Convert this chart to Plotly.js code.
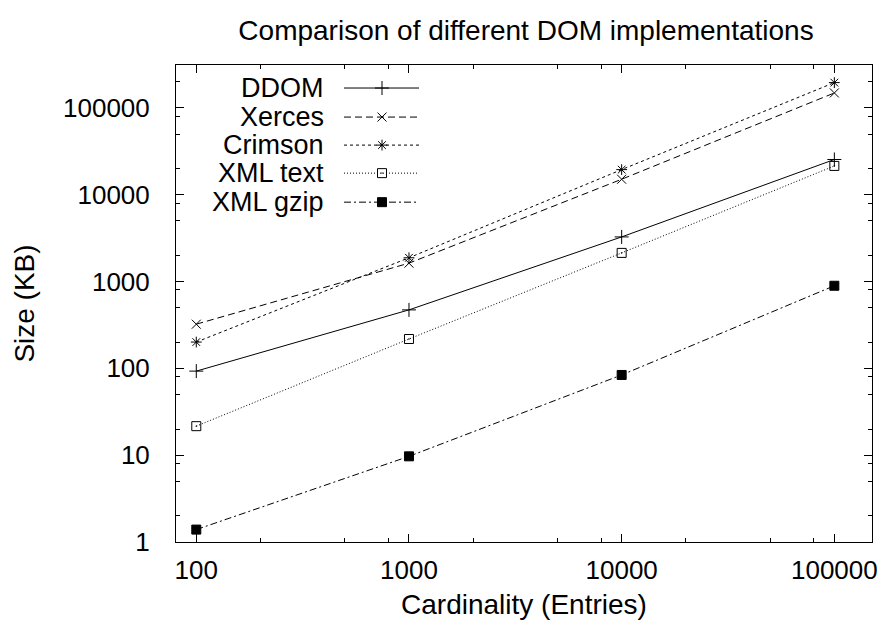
<!DOCTYPE html>
<html>
<head>
<meta charset="utf-8">
<script src="https://cdn.plot.ly/plotly-3.0.1.min.js"></script>
<style>html,body{margin:0;padding:0;background:#fff;}#chart{width:886px;height:630px;}</style>
</head>
<body>
<div id="chart"></div>
<script>
// ---- data ----
const cardinality = [100, 1000, 10000, 100000];
const seriesNames = ["DDOM", "Xerces", "Crimson", "XML text", "XML gzip"];
const ddom    = [93, 472, 3270, 25500];
const xerces  = [323, 1630, 15100, 149000];
const crimson = [201, 1880, 19500, 196000];
const xmlText = [21.6, 218, 2140, 21500];
const xmlGzip = [1.39, 9.7, 84, 895];
const yTickVals = [1, 10, 100, 1000, 10000, 100000];
const yTickText = ["1", "10", "100", "1000", "10000", "100000"];
const xTickVals = [100, 1000, 10000, 100000];
const xTickText = ["100", "1000", "10000", "100000"];

const seriesValues = [ddom, xerces, crimson, xmlText, xmlGzip];
const styles = [
  {dash: "solid", symbol: "cross-thin-open", size: 10},
  {dash: "7px,4px", symbol: "x-thin-open", size: 9},
  {dash: "3px,3px", symbol: "asterisk-open", size: 9},
  {dash: "1px,2px", symbol: "square-open-dot", size: 9},
  {dash: "7px,3px,2px,3px", symbol: "square", size: 9}
];
const FONT = "Liberation Sans, Arial, Helvetica, sans-serif";
const ink = "#000";

const traces = [];
seriesNames.forEach((name, i) => {
  traces.push({
    x: cardinality, y: seriesValues[i], name: name, type: "scatter", mode: "lines+markers",
    line: {color: ink, width: 1, dash: styles[i].dash},
    marker: {symbol: styles[i].symbol, size: styles[i].size, color: ink, line: {color: ink, width: 1}},
    showlegend: false, hoverinfo: "x+y+name"
  });
});

// ---- custom gnuplot-style legend (text left, sample right) on a hidden pixel-scaled overlay axis ----
const legendRowY = [23, 52, 80, 108, 137];
const sampleX0 = 168, sampleX1 = 243, sampleMid = 206, textRight = 150;
const annotations = [];
seriesNames.forEach((name, i) => {
  traces.push({
    x: [sampleX0, sampleX1], y: [legendRowY[i], legendRowY[i]], xaxis: "x2", yaxis: "y2",
    type: "scatter", mode: "lines", line: {color: ink, width: 1, dash: styles[i].dash},
    showlegend: false, hoverinfo: "skip"
  });
  traces.push({
    x: [sampleMid], y: [legendRowY[i]], xaxis: "x2", yaxis: "y2",
    type: "scatter", mode: "markers",
    marker: {symbol: styles[i].symbol, size: styles[i].size, color: ink, line: {color: ink, width: 1}},
    showlegend: false, hoverinfo: "skip"
  });
  annotations.push({
    xref: "x2", yref: "y2", x: textRight, y: legendRowY[i], text: name, showarrow: false,
    xanchor: "right", yanchor: "middle", font: {family: FONT, size: 27, color: ink}
  });
});

const minorVals = [];
[1, 10, 100, 1000, 10000, 100000].forEach(d => { [2, 5, 8].forEach(m => minorVals.push(d * m)); });

const axisCommon = {
  type: "log", showline: true, linecolor: ink, linewidth: 1, mirror: "ticks",
  ticks: "inside", ticklen: 8, tickwidth: 1, tickcolor: ink, showgrid: false, zeroline: false,
  tickfont: {family: FONT, size: 26, color: ink},
  minor: {tickmode: "array", tickvals: minorVals, ticks: "inside", ticklen: 4, tickwidth: 1, tickcolor: ink, showgrid: false}
};

const layout = {
  width: 886, height: 630,
  margin: {l: 176, r: 14, t: 65, b: 88, pad: 0},
  paper_bgcolor: "#fff", plot_bgcolor: "#fff",
  font: {family: FONT, size: 26, color: ink},
  title: {text: "Comparison of different DOM implementations", font: {family: FONT, size: 28, color: ink},
          x: 0.5937, xanchor: "center", y: 0.952, yanchor: "middle"},
  xaxis: Object.assign({}, axisCommon, {
    range: [1.9046, 5.177], tickmode: "array", tickvals: xTickVals, ticktext: xTickText,
    ticklabelstandoff: 5,
    title: {text: "Cardinality (Entries)", font: {family: FONT, size: 28, color: ink}, standoff: 10}
  }),
  yaxis: Object.assign({}, axisCommon, {
    range: [0, 5.495], tickmode: "array", tickvals: yTickVals, ticktext: yTickText,
    ticklabelstandoff: 20,
    title: {text: "Size (KB)", font: {family: FONT, size: 28, color: ink}, standoff: 20}
  }),
  xaxis2: {overlaying: "x", range: [0, 696], visible: false, fixedrange: true},
  yaxis2: {overlaying: "y", range: [476.4, 0], visible: false, fixedrange: true},
  annotations: annotations,
  showlegend: false
};

Plotly.newPlot("chart", traces, layout, {displayModeBar: false, staticPlot: true});
</script>
</body>
</html>
